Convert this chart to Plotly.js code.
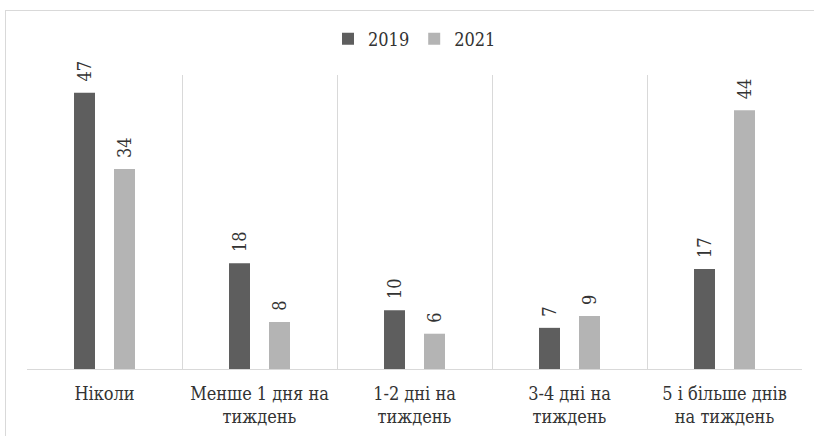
<!DOCTYPE html>
<html>
<head>
<meta charset="utf-8">
<script src="https://cdn.plot.ly/plotly-3.0.1.min.js"></script>
<style>
  html, body { margin: 0; padding: 0; background: #ffffff; overflow: hidden; }
  #frame { position: absolute; left: 5px; top: 10px; width: 830px; height: 450px; border: 1px solid #d9d9d9; box-sizing: border-box; }
  #chart { position: absolute; left: 0; top: 0; width: 814px; height: 436px; }
</style>
</head>
<body>
<div id="frame"></div>
<div id="chart"></div>
<script>
const categories = [
  "Ніколи",
  "Менше 1 дня на<br>тиждень",
  "1-2 дні на<br>тиждень",
  "3-4 дні на<br>тиждень",
  "5 і більше днів<br>на тиждень"
];
const seriesNames = ["2019", "2021"];
const values2019 = [47, 18, 10, 7, 17];
const values2021 = [34, 8, 6, 9, 44];
const colors = ["#5e5e5e", "#b4b4b4"];

const font = "DejaVu Serif Condensed";

const traces = [values2019, values2021].map((vals, i) => ({
  type: "bar",
  name: seriesNames[i],
  x: categories,
  y: vals,
  marker: { color: colors[i], line: { color: colors[i], width: 0 } },
  text: vals.map(String),
  texttemplate: "\u2002%{y}",
  textposition: "outside",
  textangle: -90,
  constraintext: "none",
  cliponaxis: false,
  textfont: { family: font, size: 18, color: "#333333" },
  hoverinfo: "skip"
}));

const layout = {
  width: 814,
  height: 436,
  margin: { l: 27, r: 12, t: 75, b: 67 },
  paper_bgcolor: "rgba(0,0,0,0)",
  plot_bgcolor: "rgba(0,0,0,0)",
  font: { family: font },
  barmode: "group",
  bargap: 0.484,
  bargroupgap: 0.475,
  showlegend: true,
  legend: {
    orientation: "h",
    x: 0.5, xanchor: "center",
    y: 1.122, yanchor: "middle",
    font: { family: font, size: 18, color: "#333333" },
    traceorder: "normal"
  },
  xaxis: {
    type: "category",
    tickson: "boundaries",
    showgrid: true,
    gridcolor: "#d9d9d9",
    gridwidth: 1,
    showline: true,
    linecolor: "#d9d9d9",
    linewidth: 1,
    ticks: "",
    ticklabelstandoff: 8,
    tickfont: { family: font, size: 18, color: "#333333" },
    zeroline: false
  },
  yaxis: {
    range: [0, 50],
    visible: false,
    showgrid: false,
    zeroline: false
  }
};

Plotly.newPlot("chart", traces, layout, { displayModeBar: false, staticPlot: true });
</script>
</body>
</html>
